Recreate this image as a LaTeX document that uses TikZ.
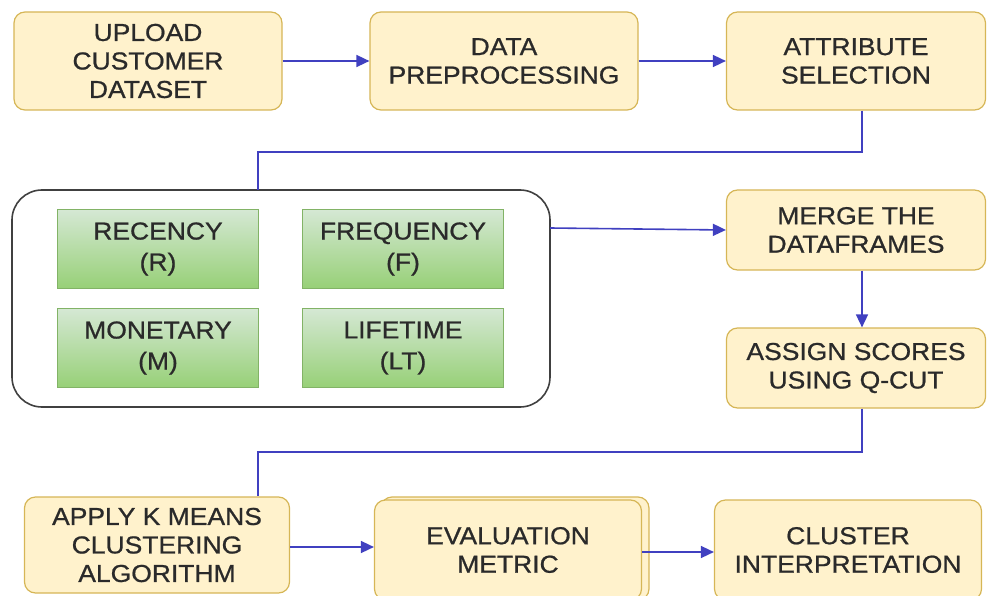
\documentclass[tikz,border=0pt]{standalone}
\usepackage{fontspec}
\setmainfont[FakeStretch=1.08, FakeBold=0.8]{Liberation Sans}
\usetikzlibrary{arrows.meta}
\definecolor{stepfill}{HTML}{FFF2CC}
\definecolor{stepline}{HTML}{D6B656}
\definecolor{attrtop}{HTML}{D5E8D4}
\definecolor{attrbot}{HTML}{97D077}
\definecolor{attrline}{HTML}{82B366}
\definecolor{flow}{HTML}{4040C0}
\definecolor{txt}{HTML}{2A2A2A}
\tikzset{
  x=1pt, y=-1pt,
  stepbox/.style={draw=stepline, fill=stepfill, line width=1.2pt, rounded corners=11pt,
    minimum width=#1, minimum height=98pt, inner sep=0pt,
    align=center, text=txt, font=\fontsize{24.5}{28.5}\selectfont},
  stepbox/.default=265pt,
  attrbox/.style={draw=attrline, top color=attrtop, bottom color=attrbot, line width=0.8pt,
    minimum width=201pt, minimum height=79pt, inner sep=0pt,
    align=center, text=txt, font=\fontsize{24.5}{31}\selectfont},
  groupbox/.style={draw=black!75, line width=1.6pt, rounded corners=30pt, fill=white},
  flowline/.style={draw=flow, line width=1.6pt, -{Stealth[length=13pt,width=12pt,inset=0pt]}},
  flowplain/.style={draw=flow, line width=1.6pt}
}
\begin{document}
\begin{tikzpicture}
\useasboundingbox (0,0) rectangle (987,596);

% top row
\node[stepbox=268pt] (upload) at (148,61) {UPLOAD\\CUSTOMER\\DATASET};
\node[stepbox=268pt] (prep) at (504,61) {DATA\\PREPROCESSING};
\node[stepbox=259pt] (attr) at (856,61) {ATTRIBUTE\\SELECTION};

% RFM-LT attributes
\draw[groupbox] (12,190) rectangle (550,407);
\coordinate (grouptop) at (258,190);
\coordinate (groupright) at (550,228);
\node[attrbox] (rec) at (158,249) {RECENCY\\(R)};
\node[attrbox] (freq) at (403,249) {FREQUENCY\\(F)};
\node[attrbox] (mon) at (158,348) {MONETARY\\(M)};
\node[attrbox] (life) at (403,348) {LIFETIME\\(LT)};

% right column
\node[stepbox=259pt, minimum height=80pt] (merge) at (856,230) {MERGE THE\\DATAFRAMES};
\node[stepbox=259pt, minimum height=80pt] (score) at (856,368) {ASSIGN SCORES\\USING Q-CUT};

% bottom row
\node[stepbox=265pt, minimum height=96pt] (kmeans) at (157,545) {APPLY K MEANS\\CLUSTERING\\ALGORITHM};
\draw[draw=stepline, fill=stepfill, line width=1.2pt, rounded corners=11pt]
  (381,497) rectangle (649,600);
\node[stepbox=267pt, minimum height=100pt] (eval) at (508,550) {EVALUATION\\METRIC};
\node[stepbox=267pt, minimum height=100pt] (interp) at (848,550) {CLUSTER\\INTERPRETATION};

% connectors
\draw[flowline] (upload.east) -- (prep.west);
\draw[flowline] (prep.east) -- (attr.west);
\draw[flowplain] (attr.south -| 862,0) -- (862,152) -- (258,152) -- (grouptop);
\draw[flowline] (groupright) -- (merge.west);
\draw[flowline] (merge.south -| 862,0) -- (score.north -| 862,0);
\draw[flowplain] (score.south -| 862,0) -- (862,452) -- (258,452) -- (kmeans.north -| 258,0);
\draw[flowline] (kmeans.east |- 0,547) -- (eval.west |- 0,547);
\draw[flowline] (eval.east |- 0,552) -- (interp.west |- 0,552);
\end{tikzpicture}
\end{document}
